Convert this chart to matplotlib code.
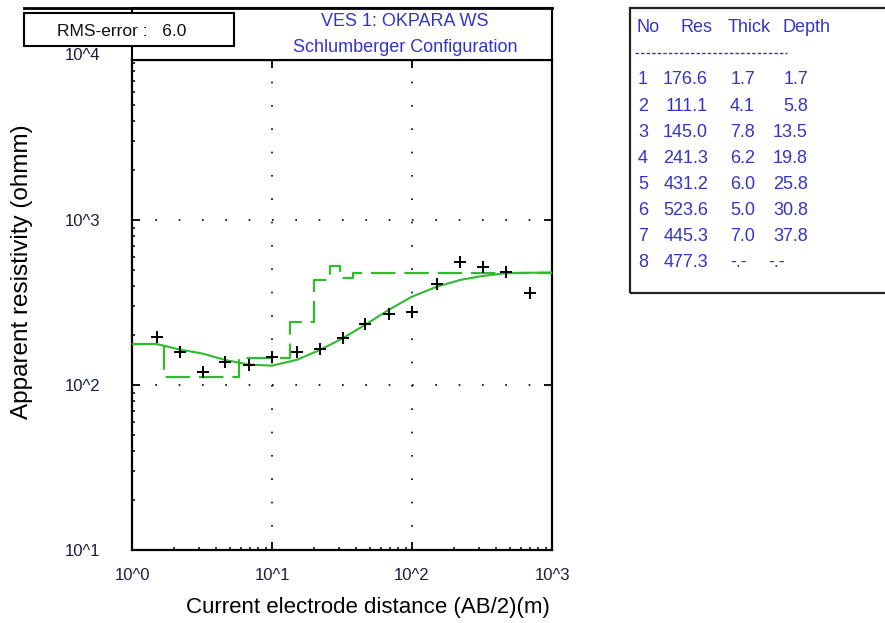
import numpy as np
import matplotlib.pyplot as plt
from matplotlib.patches import Rectangle
from matplotlib.lines import Line2D
from matplotlib.ticker import LogLocator, NullFormatter

plt.rcParams['font.family'] = ['Liberation Sans', 'DejaVu Sans']

# field data (AB/2 in m, apparent resistivity in ohm-m)
ab2 = [1.5, 2.2, 3.2, 4.6, 6.8, 10, 15, 22, 32, 46, 68, 100, 150, 220, 320, 470, 700]
rho_obs = [196, 159, 120, 138, 132, 148, 158, 165, 193, 234, 270, 277, 409, 556, 521, 484, 362]

# computed curve
fit_ab2 = [1, 1.5, 2.2, 3.2, 4.6, 6.8, 10, 15, 22, 32, 46, 68, 100, 150, 220, 320, 470, 700, 1000]
fit_rho = [177, 177, 164, 155, 142, 133, 131, 142, 163, 192, 231, 285, 343, 394, 433, 458, 476, 479, 481]

# layer model
layer_no = [1, 2, 3, 4, 5, 6, 7, 8]
layer_res = [176.6, 111.1, 145.0, 241.3, 431.2, 523.6, 445.3, 477.3]
layer_thick = [1.7, 4.1, 7.8, 6.2, 6.0, 5.0, 7.0]
layer_depth = [1.7, 5.8, 13.5, 19.8, 25.8, 30.8, 37.8]

x_ticks = [1, 10, 100, 1000]
x_labels = ['10^0', '10^1', '10^2', '10^3']
y_ticks = [10, 100, 1000]
y_labels = ['10^1', '10^2', '10^3']

W, H = 885, 623
fig = plt.figure(figsize=(W / 100, H / 100), dpi=100)


def fx(px):
    return px / W


def fy(py):
    return 1 - py / H


green = '#2fba2f'
blue = '#3434c8'
lab_col = '#1c1c40'

ax = fig.add_axes([fx(132), fy(550), fx(552) - fx(132), fy(60) - fy(550)])
ax.set_xscale('log')
ax.set_yscale('log')
ax.set_xlim(1, 1000)
ax.set_ylim(10, 10 ** (1 + 490 / 165))

# step model
step_x = [1] + layer_depth + [1000]
step_y = layer_res + [layer_res[-1]]
ax.step(step_x, step_y, where='post', color=green, lw=1.6,
        linestyle=(0, (11, 4)), zorder=3)
ax.plot(fit_ab2, fit_rho, color=green, lw=1.5, zorder=4)
ax.plot(ab2, rho_obs, '+', color='black', ms=9, mew=1.4, zorder=5)

ax.set_xticks(x_ticks, x_labels)
ax.set_yticks(y_ticks, y_labels)
ax.xaxis.set_minor_locator(LogLocator(base=10, subs=np.arange(2, 10)))
ax.yaxis.set_minor_locator(LogLocator(base=10, subs=np.arange(2, 10)))
ax.xaxis.set_minor_formatter(NullFormatter())
ax.yaxis.set_minor_formatter(NullFormatter())
ax.tick_params(which='major', direction='in', length=6, width=1.3,
               top=True, right=True, labelsize=12, labelcolor=lab_col)
ax.tick_params(which='minor', direction='in', length=2.5, width=1.1,
               top=False, right=False)
ax.tick_params(axis='x', which='major', pad=13)
ax.tick_params(axis='y', which='major', pad=23)
for s in ax.spines.values():
    s.set_linewidth(1.6)
ax.grid(True, which='major', color='black', lw=1.2, linestyle=(0, (1, 13)))
ax.set_facecolor('white')

fig.text(fx(83), fy(56), '10^4', ha='center', va='center', fontsize=12, color=lab_col)

fig.text(fx(22), fy(272), 'Apparent resistivity (ohmm)', rotation=90,
         ha='center', va='center', fontsize=17.5, color='black')
fig.text(fx(368), fy(607), 'Current electrode distance (AB/2)(m)',
         ha='center', va='center', fontsize=16, color='black')

# header box
fig.patches.append(Rectangle((fx(132), fy(60)), fx(552) - fx(132), fy(8) - fy(60),
                             transform=fig.transFigure, fill=True, fc='white',
                             ec='black', lw=1.5))
fig.lines.append(Line2D([fx(24), fx(552)], [fy(8), fy(8)], transform=fig.transFigure,
                        color='black', lw=2))
fig.text(fx(405), fy(22), 'VES 1: OKPARA WS', ha='center', va='center',
         fontsize=13, color=blue)
fig.text(fx(405), fy(48), 'Schlumberger Configuration', ha='center', va='center',
         fontsize=13, color=blue)

# rms box
fig.patches.append(Rectangle((fx(24), fy(46)), fx(234) - fx(24), fy(13) - fy(46),
                             transform=fig.transFigure, fill=True, fc='white',
                             ec='black', lw=1.5))
fig.text(fx(57), fy(32), 'RMS-error :   6.0', ha='left', va='center',
         fontsize=12.5, color='#111111')

# layer table
fig.patches.append(Rectangle((fx(630), fy(293)), fx(890) - fx(630), fy(8) - fy(293),
                             transform=fig.transFigure, fill=False,
                             ec='#222222', lw=1.6))
fig.text(fx(636), fy(28), 'No', ha='left', va='center', fontsize=13, color=blue)
fig.text(fx(681), fy(28), 'Res', ha='left', va='center', fontsize=13, color=blue)
fig.text(fx(728), fy(28), 'Thick', ha='left', va='center', fontsize=13, color=blue)
fig.text(fx(783), fy(28), 'Depth', ha='left', va='center', fontsize=13, color=blue)
fig.lines.append(Line2D([fx(635), fx(787)], [fy(53), fy(53)], transform=fig.transFigure,
                        color=blue, lw=1, linestyle=(0, (2.5, 1.5))))
for i, n in enumerate(layer_no):
    yy = fy(80 + i * 26.1)
    fig.text(fx(648), yy, str(n), ha='right', va='center', fontsize=13, color=blue)
    fig.text(fx(708), yy, '%.1f' % layer_res[i], ha='right', va='center',
             fontsize=13, color=blue)
    if i < len(layer_thick):
        fig.text(fx(755), yy, '%.1f' % layer_thick[i], ha='right', va='center',
                 fontsize=13, color=blue)
        fig.text(fx(808), yy, '%.1f' % layer_depth[i], ha='right', va='center',
                 fontsize=13, color=blue)
    else:
        fig.text(fx(730), yy, '-.-', ha='left', va='center', fontsize=13, color=blue)
        fig.text(fx(768), yy, '-.-', ha='left', va='center', fontsize=13, color=blue)

fig.savefig('out.png', dpi=100)
